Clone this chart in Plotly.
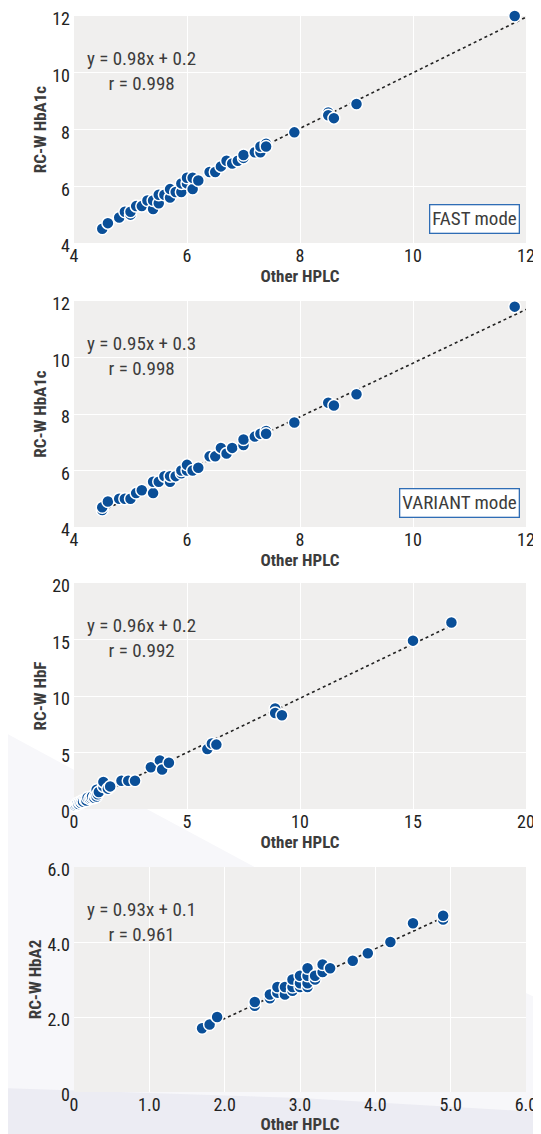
import plotly.graph_objects as go

# ---------------- data ----------------
fast_x = [4.5, 4.6, 4.8, 4.9, 5.0, 5.0, 5.1, 5.2, 5.3, 5.4, 5.4, 5.5, 5.5, 5.6, 5.7, 5.7, 5.8, 5.9, 5.9,
          6.0, 6.0, 6.1, 6.1, 6.2, 6.4, 6.5, 6.6, 6.7, 6.8, 6.9, 7.0, 7.0, 7.2, 7.3, 7.3, 7.4, 7.4,
          7.9, 8.5, 8.5, 8.6, 9.0, 11.8]
fast_y = [4.5, 4.7, 4.9, 5.1, 5.0, 5.1, 5.3, 5.3, 5.5, 5.2, 5.5, 5.4, 5.7, 5.7, 5.6, 5.9, 5.8, 5.8, 6.1,
          6.1, 6.3, 5.9, 6.3, 6.2, 6.5, 6.5, 6.7, 6.9, 6.8, 6.9, 7.0, 7.1, 7.2, 7.2, 7.4, 7.5, 7.4,
          7.9, 8.6, 8.5, 8.4, 8.9, 12.0]

variant_x = [4.5, 4.5, 4.6, 4.8, 4.9, 5.0, 5.1, 5.2, 5.4, 5.4, 5.5, 5.6, 5.7, 5.7, 5.8, 5.9, 5.9,
             6.0, 6.0, 6.1, 6.2, 6.4, 6.5, 6.6, 6.7, 6.8, 7.0, 7.0, 7.2, 7.3, 7.4, 7.4,
             7.9, 8.5, 8.6, 9.0, 11.8]
variant_y = [4.6, 4.7, 4.9, 5.0, 5.0, 5.0, 5.2, 5.3, 5.2, 5.6, 5.6, 5.8, 5.6, 5.8, 5.8, 5.9, 6.0,
             6.0, 6.2, 6.0, 6.1, 6.5, 6.5, 6.8, 6.6, 6.8, 6.9, 7.1, 7.2, 7.3, 7.4, 7.3,
             7.7, 8.4, 8.3, 8.7, 11.8]

hbf_x = [0.05, 0.1, 0.15, 0.2, 0.25, 0.3, 0.35, 0.4, 0.5, 0.55, 0.6, 0.7, 0.75, 0.8, 0.9, 0.95, 1.0,
         1.0, 1.05, 1.1, 1.3, 1.3, 1.5, 1.6, 2.1, 2.4, 2.7, 3.4, 3.8, 3.9, 4.2, 5.9, 6.1, 6.3,
         8.9, 8.9, 9.2, 15.0, 16.7]
hbf_y = [0.3, 0.4, 0.5, 0.45, 0.6, 0.55, 0.7, 0.65, 0.8, 0.75, 1.0, 0.9, 1.0, 1.1, 1.0, 1.2, 1.1,
         1.7, 1.3, 1.5, 2.0, 2.4, 1.8, 2.0, 2.5, 2.5, 2.5, 3.7, 4.3, 3.5, 4.1, 5.3, 5.8, 5.7,
         8.9, 8.5, 8.3, 14.9, 16.5]

hba2_x = [1.7, 1.8, 1.9, 2.4, 2.4, 2.6, 2.6, 2.7, 2.7, 2.8, 2.8, 2.9, 2.9, 2.9, 3.0, 3.0, 3.0,
          3.1, 3.1, 3.1, 3.1, 3.2, 3.2, 3.3, 3.3, 3.4, 3.7, 3.9, 4.2, 4.5, 4.9, 4.9]
hba2_y = [1.7, 1.8, 2.0, 2.3, 2.4, 2.5, 2.6, 2.65, 2.8, 2.6, 2.8, 2.7, 2.8, 3.0, 2.8, 2.9, 3.1,
          2.8, 2.9, 3.1, 3.3, 3.0, 3.1, 3.2, 3.4, 3.3, 3.5, 3.7, 4.0, 4.5, 4.6, 4.7]

# regression lines: slope, intercept, x extent
fits = [(0.98, 0.2, [4.5, 12.0]), (0.95, 0.3, [4.6, 12.0]),
        (0.96, 0.2, [0.0, 16.7]), (0.93, 0.1, [1.9, 4.9])]
eq_texts = ["y = 0.98x + 0.2<br>r = 0.998", "y = 0.95x + 0.3<br>r = 0.998",
            "y = 0.96x + 0.2<br>r = 0.992", "y = 0.93x + 0.1<br>r = 0.961"]
mode_labels = ["FAST mode", "VARIANT mode", None, None]
y_titles = ["RC-W HbA1c", "RC-W HbA1c", "RC-W HbF", "RC-W HbA2"]
x_title = "Other HPLC"

ranges = [[4, 12], [4, 12], [0, 20], [0, 6]]
tickvals = [[4, 6, 8, 10, 12], [4, 6, 8, 10, 12], [0, 5, 10, 15, 20], [0, 1, 2, 3, 4, 5, 6]]
ticktext = [["4", "6", "8", "10", "12"], ["4", "6", "8", "10", "12"],
            ["0", "5", "10", "15", "20"], ["0", "1.0", "2.0", "3.0", "4.0", "5.0", "6.0"]]
y_tickvals = [[4, 6, 8, 10, 12], [4, 6, 8, 10, 12], [0, 5, 10, 15, 20], [0, 2, 4, 6]]
y_ticktext = [["4", "6", "8", "10", "12"], ["4", "6", "8", "10", "12"],
              ["0", "5", "10", "15", "20"], ["0", "2.0", "4.0", "6.0"]]

series = [(fast_x, fast_y), (variant_x, variant_y), (hbf_x, hbf_y), (hba2_x, hba2_y)]

# ---------------- layout geometry ----------------
# the page body has an 8px margin, so the figure sits at (8, 8) in the window
OFF = 8
W, H = 541 - OFF, 1134 - OFF
ML, MR, MT, MB = 74 - OFF, 15, 16 - OFF, 42
panels_px = [(16, 243), (301, 527), (583, 809), (867, 1092)]  # window px: top, bottom
PH = H - MT - MB
PW = W - ML - MR

def py2paper(py):
    return (H - MB - (py - OFF)) / PH

def px2paper(px):
    return ((px - OFF) - ML) / PW

FONT = "Roboto Condensed, Liberation Sans Narrow, Roboto, sans-serif"
TXT = "#3c3c3c"
BLUE = "#0a4f98"
PLOTBG = "#f0efee"

fig = go.Figure()
layout = dict(width=W, height=H, margin=dict(l=ML, r=MR, t=MT, b=MB),
              paper_bgcolor="white", plot_bgcolor="rgba(0,0,0,0)", showlegend=False,
              font=dict(family=FONT, color=TXT, size=19))
annotations = []

for i, ((xs, ys), (m, b, ext)) in enumerate(zip(series, fits)):
    n = "" if i == 0 else str(i + 1)
    xa, ya = "x" + n, "y" + n
    lx = ext
    ly = [m * v + b for v in ext]
    fig.add_trace(go.Scatter(x=lx, y=ly, mode="lines", xaxis=xa, yaxis=ya,
                             line=dict(color="#222222", width=1.6, dash="dot"),
                             hoverinfo="skip"))
    fig.add_trace(go.Scatter(x=xs, y=ys, mode="markers", xaxis=xa, yaxis=ya,
                             cliponaxis=False,
                             marker=dict(color=BLUE, size=12,
                                         line=dict(color="white", width=1.5))))
    top, bot = panels_px[i]
    layout["xaxis" + n] = dict(domain=[0, 1], anchor=ya, range=ranges[i],
                               tickvals=tickvals[i], ticktext=ticktext[i],
                               showgrid=True, gridcolor="white", gridwidth=1.2,
                               zeroline=False, showline=False, ticks="", ticklen=0,
                               automargin=False, ticklabeloverflow="allow",
                               tickfont=dict(size=18, color="#222"),
                               title=dict(text="<b>" + x_title + "</b>", standoff=0,
                                          font=dict(size=17, color=TXT)))
    layout["yaxis" + n] = dict(domain=[py2paper(bot), py2paper(top)], anchor=xa,
                               range=ranges[i], tickvals=y_tickvals[i], ticktext=y_ticktext[i],
                               showgrid=True, gridcolor="white", gridwidth=1.2,
                               zeroline=False, showline=False, ticks="", ticklen=0,
                               ticklabelstandoff=3, ticklabelshift=3, automargin=False,
                               ticklabeloverflow="allow",
                               tickfont=dict(size=18, color="#222"),
                               title=dict(text="<b>" + y_titles[i] + "</b>", standoff=1,
                                          font=dict(size=17, color=TXT)))
    annotations.append(dict(text=eq_texts[i], xref=xa + " domain", yref=ya + " domain",
                            x=0.15, y=0.757, xanchor="center", yanchor="middle",
                            showarrow=False, align="center",
                            font=dict(size=19, color=TXT)))
    if mode_labels[i]:
        annotations.append(dict(text=mode_labels[i], xref=xa + " domain", yref=ya + " domain",
                                x=0.987, y=0.04, xanchor="right", yanchor="bottom",
                                showarrow=False, bgcolor="white", bordercolor="#2f6db5",
                                borderwidth=1.3, borderpad=2,
                                font=dict(size=19, color=TXT)))

layout["annotations"] = annotations

# faint decorative background swooshes, then plot-area backgrounds on top of them
shapes = []
def path(points):
    return "M " + " L ".join(f"{px2paper(x):.4f},{py2paper(y):.4f}" for x, y in points) + " Z"

shapes.append(dict(type="path", xref="paper", yref="paper", layer="below",
                   path=path([(0, 730), (260, 870), (541, 1000), (541, 1134), (0, 1134)]),
                   fillcolor="#f7f7fa", line=dict(width=0)))
shapes.append(dict(type="path", xref="paper", yref="paper", layer="below",
                   path=path([(0, 1088), (300, 1098), (541, 1112), (541, 1134), (0, 1134)]),
                   fillcolor="#ececf3", line=dict(width=0)))
for top, bot in panels_px:
    shapes.append(dict(type="rect", xref="paper", yref="paper", layer="below",
                       x0=0, x1=1, y0=py2paper(bot), y1=py2paper(top),
                       fillcolor=PLOTBG, line=dict(width=0)))
layout["shapes"] = shapes

fig.update_layout(**layout)
fig.write_html("out.html")
